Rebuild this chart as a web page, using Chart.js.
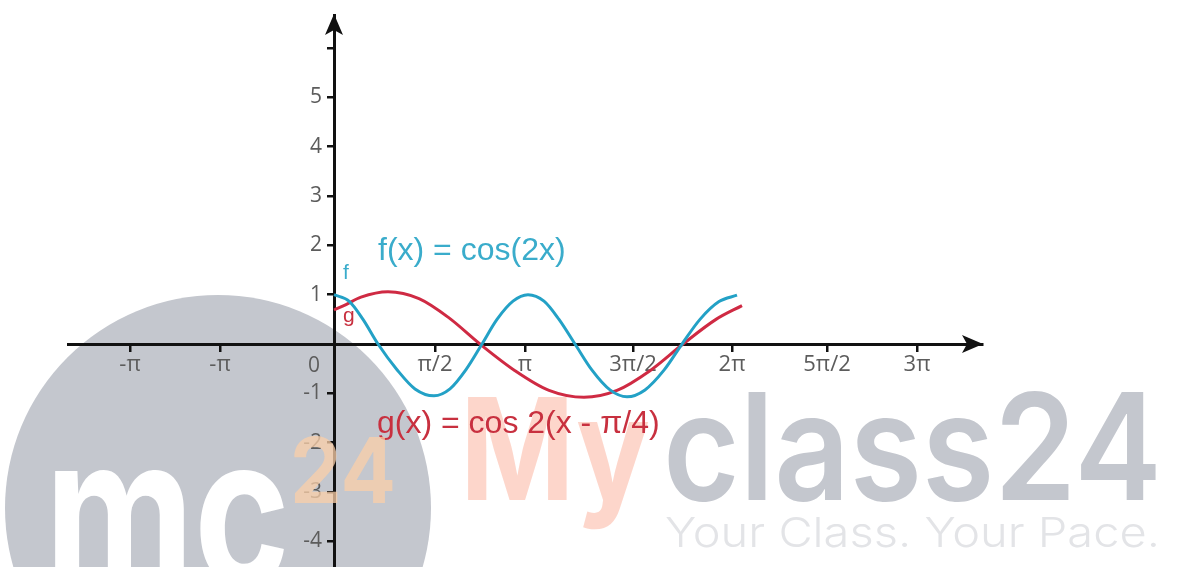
<!DOCTYPE html>
<html>
<head>
<meta charset="utf-8">
<script src="https://cdn.jsdelivr.net/npm/chart.js@4.4.1/dist/chart.umd.min.js"></script>
<style>
html, body { margin: 0; padding: 0; background: #fff; }
canvas { display: block; }
</style>
</head>
<body>
<canvas id="myChart" width="1191" height="567"></canvas>
<script>
// x is measured in steps of pi/2, y is the function value
let fX = [0, 0.15, 0.29, 0.44, 0.63, 0.81, 1.0, 1.16, 1.32, 1.48, 1.63, 1.79, 1.94, 2.10, 2.25, 2.41, 2.58, 2.76, 2.93, 3.11, 3.30, 3.48, 3.66, 3.85, 4.03];
let fY = [1.0, 0.87, 0.5, 0, -0.52, -0.91, -1.05, -0.91, -0.52, 0, 0.5, 0.87, 1.0, 0.87, 0.5, 0, -0.53, -0.93, -1.07, -0.93, -0.53, 0, 0.5, 0.86, 0.99];
let gX = [0, 0.12, 0.27, 0.54, 0.85, 1.15, 1.46, 1.81, 2.15, 2.5, 2.83, 3.16, 3.49, 3.82, 4.08];
let gY = [0.69, 0.8, 0.95, 1.06, 0.92, 0.53, 0, -0.54, -0.94, -1.08, -0.94, -0.54, 0, 0.5, 0.78];

let xTickPos = [-2.04, -1.14, 1.01, 1.91, 2.99, 3.98, 4.93, 5.83];
let xTickLabels = ['-π', '-π', 'π/2', 'π', '3π/2', '2π', '5π/2', '3π'];
let yTickPos = [-4, -3, -2, -1, 1, 2, 3, 4, 5, 6];
let yTickLabels = ['-4', '-3', '-2', '-1', '1', '2', '3', '4', '5', ''];

let curveLabels = [
    { text: 'f(x) = cos(2x)', x: 0.44, y: 1.70, color: '#3aaccb', size: 32 },
    { text: 'g(x) = cos 2(x - π/4)', x: 0.43, y: -1.81, color: '#c8303f', size: 32 },
    { text: 'f', x: 0.09, y: 1.32, color: '#3aaccb', size: 21 },
    { text: 'g', x: 0.09, y: 0.45, color: '#c8303f', size: 21 }
];

const blue = '#23a1c6';
const red = '#cf2a43';
const labelGrey = '#5c5c5c';

function fitText(ctx, text, x, y, w, font, color) {
    ctx.font = font;
    let m = ctx.measureText(text).width;
    ctx.save();
    ctx.translate(x, y);
    ctx.scale(w / m, 1);
    ctx.fillStyle = color;
    ctx.textAlign = 'left';
    ctx.textBaseline = 'alphabetic';
    ctx.fillText(text, 0, 0);
    ctx.restore();
}

const watermarkBack = {
    id: 'watermarkBack',
    beforeDraw(chart) {
        let c = chart.ctx;
        c.save();
        c.fillStyle = '#c4c7ce';
        c.beginPath();
        c.arc(218, 508, 213, 0, Math.PI * 2);
        c.fill();
        fitText(c, 'mc', 45, 586, 245, 'bold 210px Inter', '#ffffff');
        fitText(c, 'My', 460, 500, 190, 'bold 142px Inter', 'rgba(250,145,115,0.37)');
        fitText(c, 'class24', 663, 500, 499, '600 148px Inter', '#c4c7ce');
        fitText(c, 'Your Class. Your Pace.', 665, 547, 495, '300 41px Inter', '#e3e4e7');
        c.restore();
    }
};

const axisExtras = {
    id: 'axisExtras',
    afterDatasetsDraw(chart) {
        let c = chart.ctx;
        let xs = chart.scales.x, ys = chart.scales.y;
        let x0 = xs.getPixelForValue(0), y0 = ys.getPixelForValue(0);
        let a = chart.chartArea;
        c.save();
        c.fillStyle = '#111';
        // x arrow
        c.beginPath();
        c.moveTo(a.right + 1, y0);
        c.lineTo(a.right - 20, y0 - 9);
        c.lineTo(a.right - 15, y0);
        c.lineTo(a.right - 20, y0 + 9);
        c.closePath();
        c.fill();
        // y arrow
        c.beginPath();
        c.moveTo(x0, a.top - 1);
        c.lineTo(x0 - 9, a.top + 20);
        c.lineTo(x0, a.top + 15);
        c.lineTo(x0 + 9, a.top + 20);
        c.closePath();
        c.fill();
        // y tick labels and origin label
        c.font = '21px "Open Sans"';
        c.fillStyle = labelGrey;
        c.textAlign = 'right';
        c.textBaseline = 'middle';
        yTickPos.forEach((v, i) => {
            c.fillText(yTickLabels[i], x0 - 12, ys.getPixelForValue(v));
        });
        c.textAlign = 'center';
        c.fillText('0', x0 - 20, y0 + 22);
        // curve labels
        c.textAlign = 'left';
        c.textBaseline = 'alphabetic';
        curveLabels.forEach(l => {
            c.font = l.size + 'px "Liberation Sans"';
            c.fillStyle = l.color;
            c.fillText(l.text, xs.getPixelForValue(l.x), ys.getPixelForValue(l.y));
        });
        c.restore();
    },
    afterDraw(chart) {
        let c = chart.ctx;
        c.save();
        c.globalAlpha = 0.75;
        fitText(c, '24', 290, 503, 106, 'bold 91px Inter', '#fbcfa8');
        c.restore();
    }
};

let ctx = document.getElementById('myChart').getContext('2d');
let myChart = new Chart(ctx, {
    type: 'line',
    data: {
        datasets: [{
            label: 'f',
            data: fX.map((x, i) => ({ x: x, y: fY[i] })),
            borderColor: blue,
            borderWidth: 3,
            pointRadius: 0,
            cubicInterpolationMode: 'monotone',
            fill: false
        }, {
            label: 'g',
            data: gX.map((x, i) => ({ x: x, y: gY[i] })),
            borderColor: red,
            borderWidth: 3,
            pointRadius: 0,
            cubicInterpolationMode: 'monotone',
            fill: false
        }]
    },
    options: {
        responsive: false,
        animation: false,
        devicePixelRatio: 1,
        layout: { padding: { left: 68, right: 209, top: 15, bottom: 0 } },
        plugins: {
            legend: { display: false },
            tooltip: { enabled: false }
        },
        scales: {
            x: {
                type: 'linear',
                position: { y: 0 },
                min: -2.66,
                max: 6.48,
                afterBuildTicks: s => { s.ticks = xTickPos.map(v => ({ value: v })); },
                ticks: {
                    callback: (v, i) => xTickLabels[i],
                    font: { family: 'Open Sans', size: 22 },
                    color: labelGrey,
                    padding: 2,
                    autoSkip: false,
                    maxRotation: 0
                },
                grid: { drawOnChartArea: false, drawTicks: true, tickLength: 6, color: '#111', lineWidth: 2.5 },
                border: { color: '#111', width: 3 }
            },
            y: {
                type: 'linear',
                position: { x: 0 },
                min: -4.52,
                max: 6.67,
                afterBuildTicks: s => { s.ticks = yTickPos.map(v => ({ value: v })); },
                ticks: { display: false },
                grid: { drawOnChartArea: false, drawTicks: true, tickLength: 6, color: '#111', lineWidth: 2.5 },
                border: { color: '#111', width: 3 }
            }
        }
    },
    plugins: [watermarkBack, axisExtras]
});
</script>
</body>
</html>
